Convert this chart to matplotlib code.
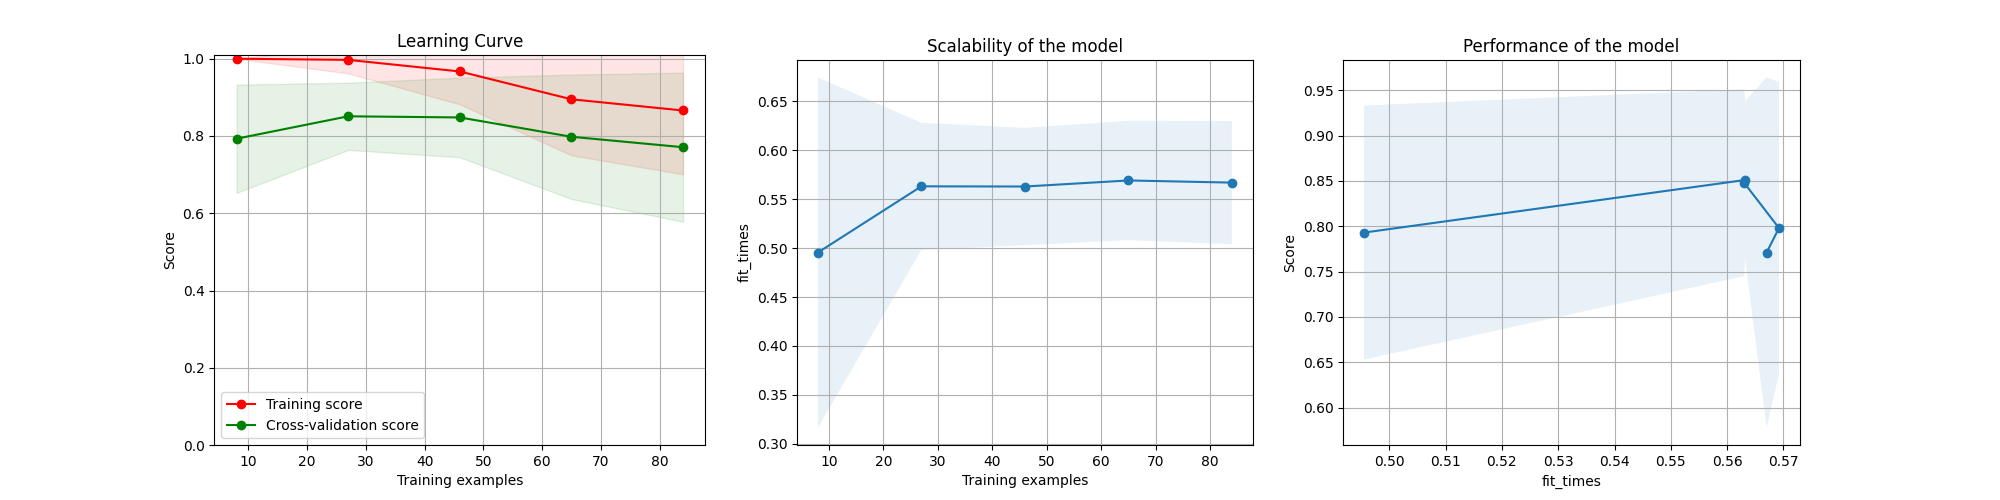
import numpy as np
import matplotlib
matplotlib.use("Agg")
import matplotlib.pyplot as plt

train_sizes = np.array([8, 27, 46, 65, 84])
train_scores_mean = np.array([1.0, 0.997, 0.967, 0.895, 0.866])
train_scores_std = np.array([0.0, 0.035, 0.085, 0.145, 0.165])
test_scores_mean = np.array([0.793, 0.851, 0.848, 0.798, 0.771])
test_scores_std = np.array([0.140, 0.087, 0.103, 0.161, 0.193])
fit_times_mean = np.array([0.4955, 0.5632, 0.5630, 0.5692, 0.5670])
fit_times_std = np.array([0.179, 0.065, 0.060, 0.061, 0.063])

fig = plt.figure(figsize=(20, 5), dpi=100)
W, H = 1568, 392
def ax_at(x0, x1, y0, y1):
    return fig.add_axes([x0 / W, 1 - y1 / H, (x1 - x0) / W, (y1 - y0) / H])

a0 = ax_at(168, 553, 43, 349)
a1 = ax_at(625, 982, 47, 349)
a2 = ax_at(1053, 1411, 47, 349)

a0.set_title("Learning Curve")
a0.set_ylim(0.0, 1.01)
a0.set_xlabel("Training examples")
a0.set_ylabel("Score")
a0.grid()
a0.fill_between(train_sizes, train_scores_mean - train_scores_std,
                train_scores_mean + train_scores_std, alpha=0.1, color="r")
a0.fill_between(train_sizes, test_scores_mean - test_scores_std,
                test_scores_mean + test_scores_std, alpha=0.1, color="g")
a0.plot(train_sizes, train_scores_mean, "o-", color="r", label="Training score")
a0.plot(train_sizes, test_scores_mean, "o-", color="g", label="Cross-validation score")
a0.legend(loc="best")

a1.grid()
a1.plot(train_sizes, fit_times_mean, "o-")
a1.fill_between(train_sizes, fit_times_mean - fit_times_std,
                fit_times_mean + fit_times_std, alpha=0.1)
a1.set_xticks(np.arange(10, 81, 10))
a1.set_yticks(np.arange(0.30, 0.651, 0.05))
a1.set_xlabel("Training examples")
a1.set_ylabel("fit_times")
a1.set_title("Scalability of the model")

order = fit_times_mean.argsort()
a2.grid()
a2.plot(fit_times_mean, test_scores_mean, "o-")
a2.fill_between(fit_times_mean[order], test_scores_mean[order] - test_scores_std[order],
                test_scores_mean[order] + test_scores_std[order], alpha=0.1)
a2.set_xticks(np.arange(0.50, 0.5701, 0.01))
a2.set_xlabel("fit_times")
a2.set_ylabel("Score")
a2.set_title("Performance of the model")

fig.savefig("out.png")
